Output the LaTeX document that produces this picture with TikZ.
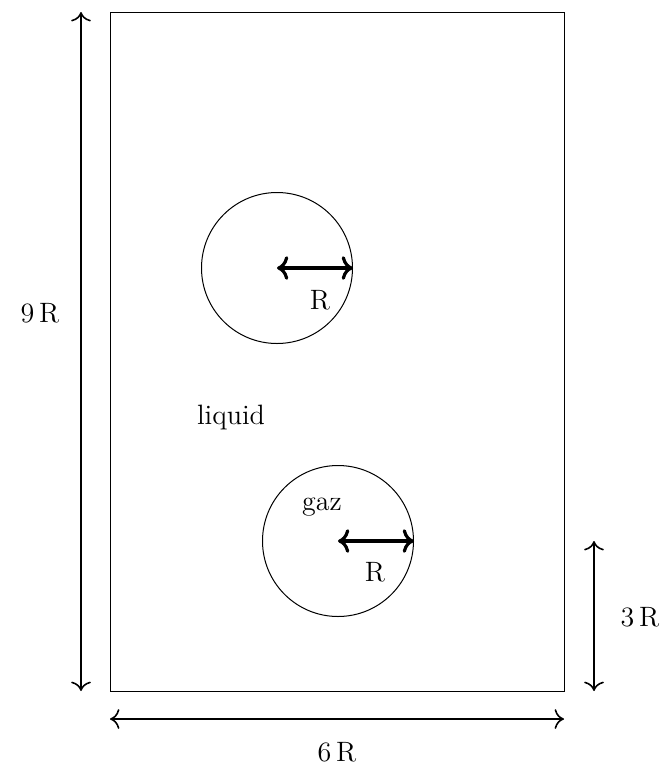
\documentclass[tikz,border=0pt]{standalone}
\usetikzlibrary{arrows.meta}
\begin{document}
\begin{tikzpicture}[x=0.5pt,y=-0.5pt,
  frame/.style={draw, line width=0.5pt},
  dim/.style={{To[scale=1.4]}-{To[scale=1.4]}, line width=0.8pt},
  rad/.style={{To[scale=1.1]}-{To[scale=1.1]}, line width=1.6pt},
  lbl/.style={inner sep=0pt, font=\fontsize{14}{16}\selectfont}]
\useasboundingbox (0,0) rectangle (662,767);
\coordinate (tl) at (110,12);
\coordinate (br) at (564,691);
\draw[frame] (tl) rectangle (br);
% circles
\node[frame, circle, minimum size=75.5pt, inner sep=0pt] (c1) at (277,268) {};
\node[frame, circle, minimum size=75.5pt, inner sep=0pt] (c2) at (338,541) {};
\draw[rad] (c1.center) -- (c1.east);
\draw[rad] (c2.center) -- (c2.east);
\node[lbl] (r1) at (320,300) {R};
\node[lbl] (r2) at (375,572) {R};
% dimension arrows
\coordinate (la) at (81,12);
\coordinate (lb) at (81,691);
\draw[dim] (la) -- (lb);
\node[lbl] (l9) at (40,313) {9\,R};
\coordinate (ba) at (110,719);
\coordinate (bb) at (564,719);
\draw[dim] (ba) -- (bb);
\node[lbl] (l6) at (337,752) {6\,R};
\coordinate (ra) at (594,541);
\coordinate (rb) at (594,691);
\draw[dim] (ra) -- (rb);
\node[lbl] (l3) at (640,617) {3\,R};
% texts
\node[lbl] (liq) at (231,417) {liquid};
\node[lbl] (gaz) at (322,507) {gaz};
\end{tikzpicture}
\end{document}
